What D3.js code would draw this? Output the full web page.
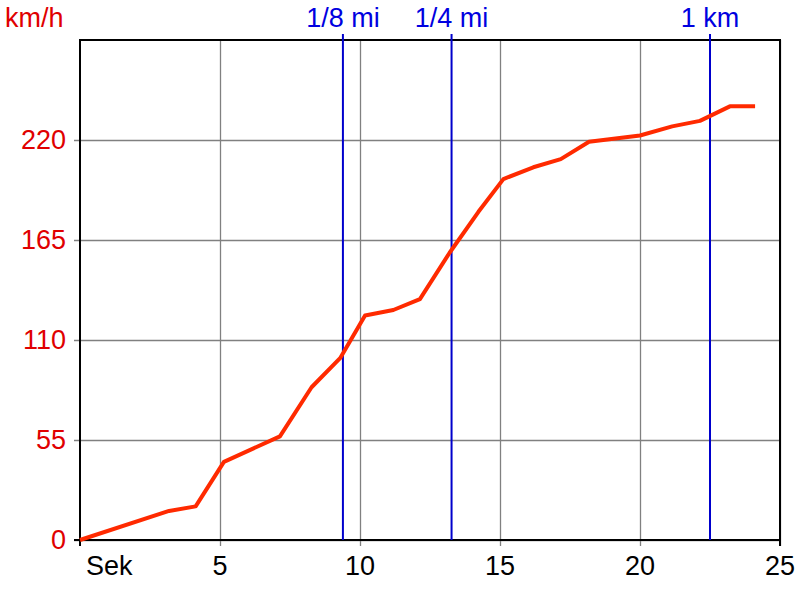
<!DOCTYPE html>
<html><head><meta charset="utf-8">
<script src="https://cdn.jsdelivr.net/npm/d3@7"></script>
<style>body{margin:0;background:#fff}svg{display:block}text{font-family:"Liberation Sans",Arial,sans-serif}</style>
</head><body>
<svg id="c" width="800" height="600"></svg>
<script>
const timeSec = [0, 3.18, 4.13, 5.14, 7.14, 8.27, 9.29, 10.18, 11.19, 12.14, 13.2, 14.23, 15.12, 16.19, 17.17, 18.18, 20.0, 21.15, 22.14, 23.21, 24.11];
const speedKmh = [0, 16, 18.5, 43, 57, 84, 100, 123.5, 126.5, 132.5, 158, 180.5, 198.5, 205, 209.5, 219, 222.5, 227.5, 230.5, 238.5, 238.5];
const markerNames = ["1/8 mi", "1/4 mi", "1 km"];
const markerTimes = [9.39, 13.27, 22.5];
const yTicks = [0, 55, 110, 165, 220];
const xTicks = [5, 10, 15, 20, 25];

const svg = d3.select("#c");
const L = 80, R = 780, T = 40, B = 540;
const FS = 27;
const x = d3.scaleLinear().domain([0, 25]).range([L, R]);
const y = d3.scaleLinear().domain([0, 275]).range([B, T]);

// grid
const gy = svg.append("g").attr("transform", `translate(${L},0)`)
  .call(d3.axisLeft(y).tickValues(yTicks).tickSize(-(R - L)).tickFormat(""));
gy.select(".domain").remove();
gy.selectAll(".tick line").attr("stroke", "#808080").attr("stroke-width", 1.3).attr("x2", R - L).attr("x1", -6);
const gx = svg.append("g").attr("transform", `translate(0,${B})`)
  .call(d3.axisBottom(x).tickValues(xTicks).tickSize(-(B - T)).tickFormat(""));
gx.select(".domain").remove();
gx.selectAll(".tick line").attr("stroke", "#808080").attr("stroke-width", 1.3).attr("y1", 6).attr("y2", -(B - T));

// frame
svg.append("rect").attr("x", L).attr("y", T).attr("width", R - L).attr("height", B - T)
  .attr("fill", "none").attr("stroke", "#000").attr("stroke-width", 2);
svg.append("line").attr("x1", L).attr("x2", L).attr("y1", B).attr("y2", B + 6).attr("stroke", "#000").attr("stroke-width", 2);
svg.append("line").attr("x1", R).attr("x2", R).attr("y1", B).attr("y2", B + 6).attr("stroke", "#000").attr("stroke-width", 2);
svg.append("line").attr("x1", L - 6).attr("x2", L).attr("y1", B).attr("y2", B).attr("stroke", "#000").attr("stroke-width", 2);

// y labels
svg.append("g").selectAll("text").data(yTicks).join("text")
  .attr("x", 66).attr("y", d => y(d) + 9).attr("text-anchor", "end")
  .attr("font-size", FS).attr("fill", "#e00000").text(d => d);
svg.append("text").attr("x", 5).attr("y", 27).attr("font-size", FS).attr("fill", "#e00000").text("km/h");

// x labels
svg.append("g").selectAll("text").data(xTicks).join("text")
  .attr("x", d => x(d)).attr("y", 575).attr("text-anchor", "middle")
  .attr("font-size", FS).attr("fill", "#000").text(d => d);
svg.append("text").attr("x", 86).attr("y", 575).attr("font-size", FS).attr("fill", "#000").text("Sek");

// marker lines
const mk = markerNames.map((n, i) => ({ n, t: markerTimes[i] }));
svg.append("g").selectAll("line").data(mk).join("line")
  .attr("x1", d => x(d.t)).attr("x2", d => x(d.t)).attr("y1", 34).attr("y2", B)
  .attr("stroke", "#0000cc").attr("stroke-width", 2);
svg.append("g").selectAll("text").data(mk).join("text")
  .attr("x", d => x(d.t)).attr("y", 27).attr("text-anchor", "middle")
  .attr("font-size", FS).attr("fill", "#0000e0").text(d => d.n);

// speed line
const pts = timeSec.map((t, i) => [t, speedKmh[i]]);
svg.append("path").datum(pts)
  .attr("d", d3.line().x(d => x(d[0])).y(d => y(d[1])))
  .attr("fill", "none").attr("stroke", "#ff2a00").attr("stroke-width", 4)
  .attr("stroke-linejoin", "round").attr("stroke-linecap", "butt");
</script>
</body></html>
